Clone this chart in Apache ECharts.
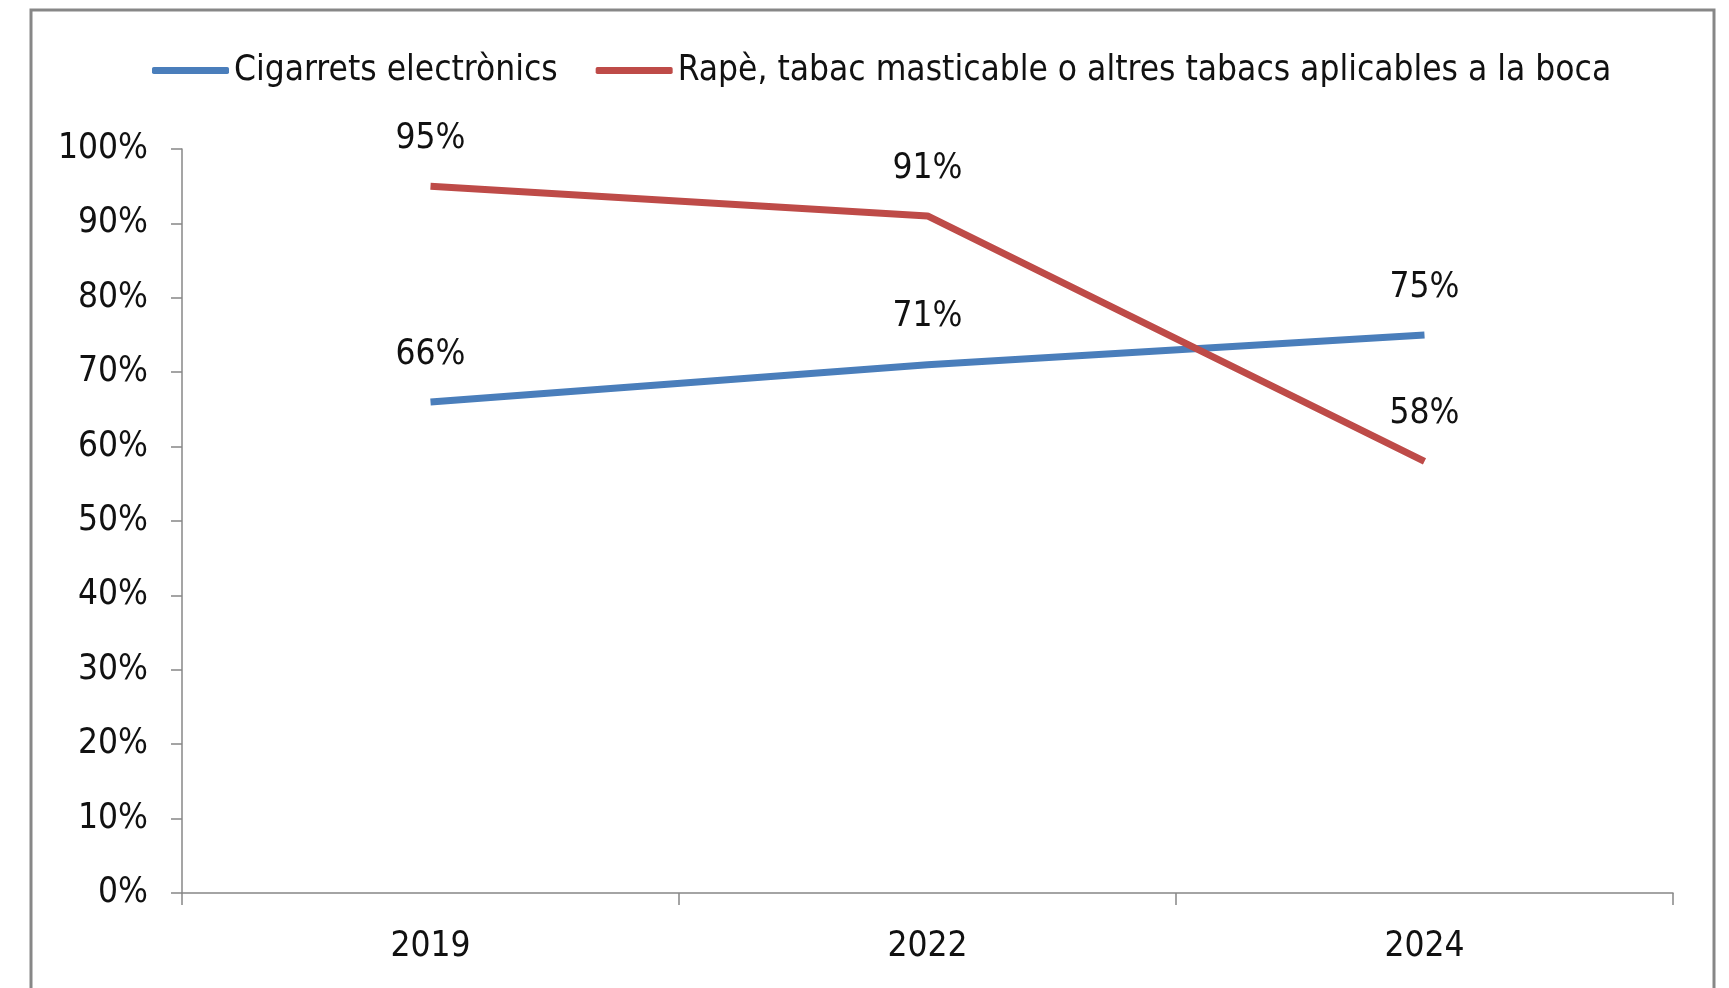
<!DOCTYPE html>
<html><head><meta charset="utf-8">
<script src="https://cdn.jsdelivr.net/npm/echarts@6/dist/echarts.min.js"></script>
<style>html,body{margin:0;padding:0;background:#fff}#c{width:1729px;height:988px}</style>
</head><body><div id="c"></div>
<script>
const categories = ['2019', '2022', '2024'];
const seriesNames = ['Cigarrets electrònics', 'Rapè, tabac masticable o altres tabacs aplicables a la boca'];
const cigarrets = [66, 71, 75];
const rape = [95, 91, 58];
const yTicks = [0, 10, 20, 30, 40, 50, 60, 70, 80, 90, 100];

const FONT = '"Liberation Sans Narrow", "DejaVu Sans Condensed", "Liberation Sans", sans-serif';
const FS = 35;
const chart = echarts.init(document.getElementById('c'));
const labelCfg = {show: true, position: 'top', distance: 30, fontFamily: FONT, fontSize: FS, color: '#111', formatter: p => p.value + '%'};
chart.setOption({
  animation: false,
  backgroundColor: '#fff',
  graphic: [{type: 'rect', shape: {x: 31, y: 10, width: 1683, height: 1000}, style: {fill: 'none', stroke: '#878787', lineWidth: 3}, silent: true}],
  legend: {
    left: 147, top: 48, itemWidth: 77, itemHeight: 7, itemGap: 38, icon: 'roundRect',
    textStyle: {fontFamily: FONT, fontSize: FS, color: '#111'},
    data: seriesNames
  },
  grid: {left: 182, right: 56, top: 149, bottom: 95, containLabel: false},
  xAxis: {
    type: 'category', data: categories, boundaryGap: true,
    axisLine: {lineStyle: {color: '#878787', width: 1.5}},
    axisTick: {show: true, length: 12, lineStyle: {color: '#878787', width: 1.5}},
    axisLabel: {fontFamily: FONT, fontSize: FS, color: '#111', margin: 36}
  },
  yAxis: {
    type: 'value', min: yTicks[0], max: yTicks[yTicks.length - 1], interval: 10,
    splitLine: {show: false},
    axisLine: {show: true, lineStyle: {color: '#878787', width: 1.5}},
    axisTick: {show: true, length: 11, lineStyle: {color: '#878787', width: 1.5}},
    axisLabel: {fontFamily: FONT, fontSize: FS, color: '#111', margin: 34, formatter: v => v + '%'}
  },
  series: [
    {name: seriesNames[0], type: 'line', data: cigarrets, showSymbol: true, symbol: 'circle', symbolSize: 0, color: '#4a7ebb', lineStyle: {width: 7, color: '#4a7ebb'}, label: labelCfg},
    {name: seriesNames[1], type: 'line', data: rape, showSymbol: true, symbol: 'circle', symbolSize: 0, color: '#be4b48', lineStyle: {width: 7, color: '#be4b48'}, label: labelCfg}
  ]
});
</script></body></html>
